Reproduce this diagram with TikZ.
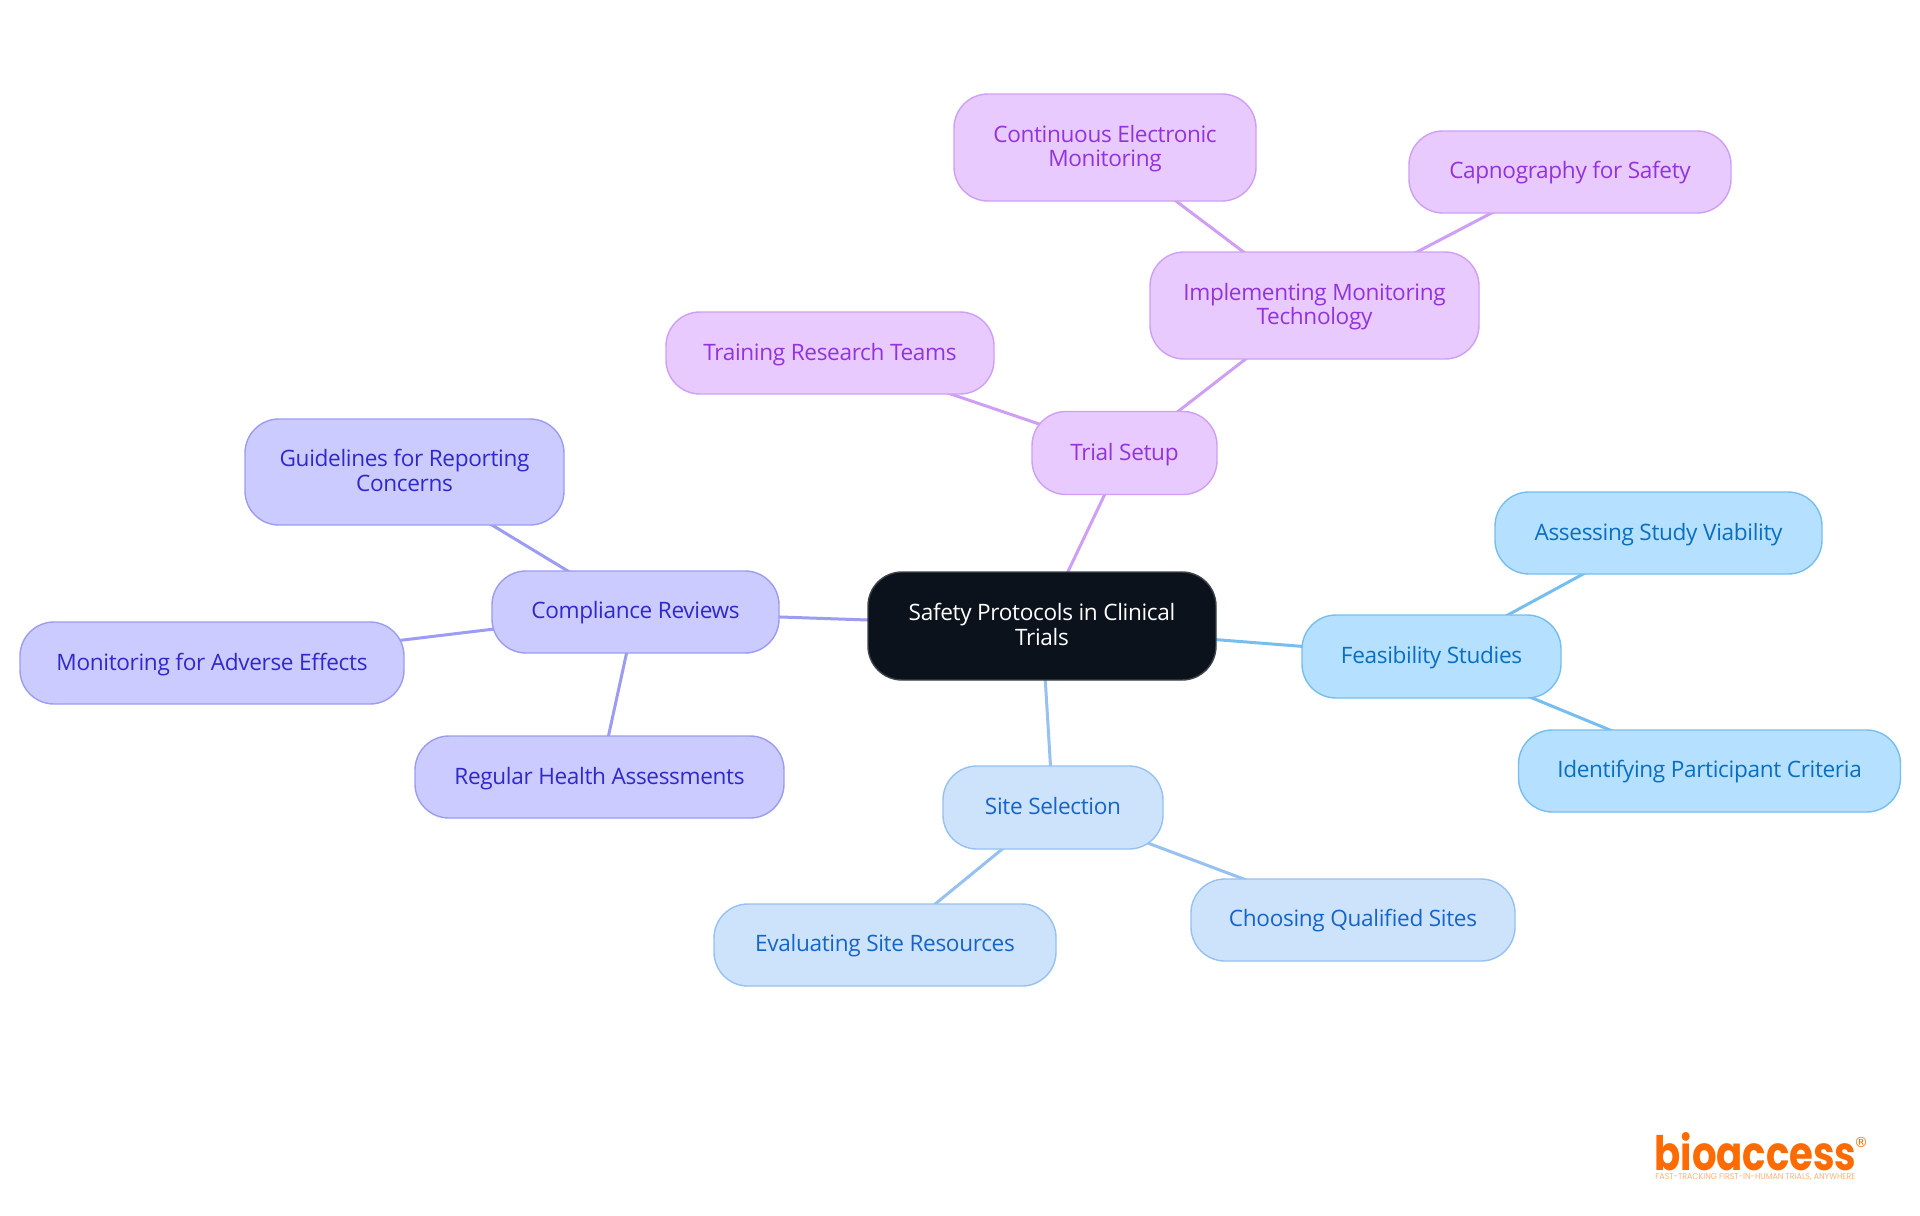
\documentclass[tikz,border=0pt]{standalone}
\usepackage{fontspec}
\usepackage{graphicx}
\setmainfont{Open Sans}
\newfontfamily\logofont{Poppins}
\newfontfamily\regfont{DejaVu Sans}
\usetikzlibrary{backgrounds}
\newcommand{\topstrut}{\rule{0pt}{10pt}}
\definecolor{rootfill}{HTML}{0B121B}\definecolor{rootline}{HTML}{3F444B}
\definecolor{trialfill}{HTML}{E8CAFF}\definecolor{trialline}{HTML}{CE9FF5}\definecolor{trialtext}{HTML}{9333DB}
\definecolor{compfill}{HTML}{CBCBFF}\definecolor{compline}{HTML}{9C9CF2}\definecolor{comptext}{HTML}{3029C9}
\definecolor{feasfill}{HTML}{B5E0FF}\definecolor{feasline}{HTML}{77BEF0}\definecolor{feastext}{HTML}{0A6FBF}
\definecolor{sitefill}{HTML}{CDE3FC}\definecolor{siteline}{HTML}{97C1F0}\definecolor{sitetext}{HTML}{1565C9}
\definecolor{logoorange}{HTML}{FF6B00}\definecolor{logopale}{HTML}{FFB27A}
\tikzset{
  box/.style={rectangle,rounded corners=17pt,line width=.7pt,inner sep=0pt,outer sep=0pt,align=center,
    font=\fontsize{11.3}{12.3}\selectfont\addfontfeature{LetterSpace=-1.5},
    execute at begin node={\rule{0pt}{#1}},execute at end node={\rule[-3pt]{0pt}{3pt}}},
  box/.default=10.3pt,
  rootbox/.style={box=11.6pt,fill=rootfill,draw=rootline,text=white},
  trialbox/.style={box=#1,fill=trialfill,draw=trialline,text=trialtext},
  trialbox/.default=10.3pt,
  compbox/.style={box=#1,fill=compfill,draw=compline,text=comptext},
  compbox/.default=10.1pt,
  feasbox/.style={box=#1,fill=feasfill,draw=feasline,text=feastext},
  feasbox/.default=10.3pt,
  sitebox/.style={box=#1,fill=sitefill,draw=siteline,text=sitetext},
  sitebox/.default=10.2pt,
  sized/.style 2 args={minimum width=#1*.5pt,minimum height=#2*.5pt},
  link/.style={line width=1.5pt},
}
\begin{document}
\begin{tikzpicture}[x=.5pt,y=-.5pt]
\useasboundingbox (0,0) rectangle (1920,1215);
\node[rootbox,sized={348}{108}] (root) at (1042,626) {\topstrut Safety Protocols in Clinical\\Trials};
\node[trialbox,sized={185}{83}] (trial) at (1124.5,453) {Trial Setup};
\node[trialbox,sized={329}{107}] (impl) at (1314.5,305.5) {\topstrut Implementing Monitoring\\Technology};
\node[trialbox,sized={302}{107}] (cont) at (1105,147.5) {\topstrut Continuous Electronic\\Monitoring};
\node[trialbox=9.7pt,sized={322}{82}] (capno) at (1570,172) {Capnography for Safety};
\node[trialbox,sized={328}{82}] (train) at (830,353) {Training Research Teams};
\node[compbox=9.7pt,sized={287}{82}] (comp) at (635.5,612) {Compliance Reviews};
\node[compbox,sized={319}{106}] (guide) at (404.5,472) {\topstrut Guidelines for Reporting\\Concerns};
\node[compbox,sized={384}{82}] (monit) at (212,663) {Monitoring for Adverse Effects};
\node[compbox,sized={369}{82}] (regular) at (599.5,777) {Regular Health Assessments};
\node[feasbox,sized={259}{83}] (feas) at (1431.5,656.5) {Feasibility Studies};
\node[feasbox,sized={327}{82}] (assess) at (1658.5,533) {Assessing Study Viability};
\node[feasbox=9.7pt,sized={382}{82}] (ident) at (1709.5,771) {Identifying Participant Criteria};
\node[sitebox,sized={220}{83}] (site) at (1053,807.5) {Site Selection};
\node[sitebox=9.7pt,sized={342}{82}] (eval) at (885,945) {Evaluating Site Resources};
\node[sitebox=9.7pt,sized={324}{82}] (choose) at (1353,920) {Choosing Qualified Sites};
\begin{scope}[on background layer]
\fill[white] (0,0) rectangle (1920,1215);
\draw[link,trialline] (root.center) -- (trial.center);
\draw[link,trialline] (trial.center) -- (impl.center);
\draw[link,trialline] (trial.center) -- (train.center);
\draw[link,trialline] (impl.center) -- (cont.center);
\draw[link,trialline] (impl.center) -- (capno.center);
\draw[link,compline] (root.center) -- (comp.center);
\draw[link,compline] (comp.center) -- (guide.center);
\draw[link,compline] (comp.center) -- (monit.center);
\draw[link,compline] (comp.center) -- (regular.center);
\draw[link,feasline] (root.center) -- (feas.center);
\draw[link,feasline] (feas.center) -- (assess.center);
\draw[link,feasline] (feas.center) -- (ident.center);
\draw[link,siteline] (root.center) -- (site.center);
\draw[link,siteline] (site.center) -- (eval.center);
\draw[link,siteline] (site.center) -- (choose.center);
\end{scope}
\node[inner sep=0pt,anchor=base west,text=logoorange] (logo) at (1654,1170) {\resizebox{101pt}{19pt}{\logofont\bfseries bioaccess}};
\node[inner sep=0pt,text=logoorange] (reg) at (1861,1142) {\fontsize{7}{8}\selectfont\regfont\char"00AE};
\node[inner sep=0pt,anchor=base west,text=logopale] (tag) at (1655,1179) {\resizebox{100pt}{3pt}{\logofont FAST-TRACKING FIRST-IN-HUMAN TRIALS, ANYWHERE}};
\end{tikzpicture}
\end{document}
